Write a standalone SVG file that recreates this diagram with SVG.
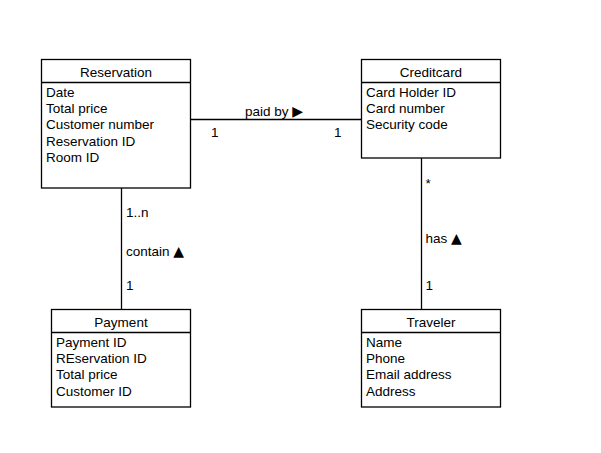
<svg xmlns="http://www.w3.org/2000/svg" width="601" height="453" viewBox="0 0 601 453">
<style>
.box{fill:#fff;stroke:#000;stroke-width:1.3}
.div{stroke:#000;stroke-width:1.3}
.conn{stroke:#000;stroke-width:1.3;fill:none}
text{font-family:"Liberation Sans","DejaVu Sans",Arial,sans-serif;font-size:13.5px;fill:#000}
.t{text-anchor:middle}
.tri{font-family:"DejaVu Sans",sans-serif;font-size:14px}
</style>
<rect width="601" height="453" fill="#fff"/>
<g id="connectors">
<line class="conn" x1="190.5" y1="119.5" x2="361.5" y2="119.5"/>
<line class="conn" x1="121.5" y1="188" x2="121.5" y2="309.5"/>
<line class="conn" x1="421.5" y1="158" x2="421.5" y2="309.5"/>
<text x="245" y="116">paid by <tspan class="tri">▶</tspan></text>
<text x="211" y="136.5">1</text>
<text x="334" y="136.5">1</text>
<text x="126" y="217">1..n</text>
<text x="126" y="256">contain <tspan class="tri">▲</tspan></text>
<text x="126" y="290">1</text>
<text x="425.5" y="188">*</text>
<text x="425.5" y="242.5">has <tspan class="tri">▲</tspan></text>
<text x="425.5" y="290">1</text>
</g>
<g id="reservation">
<rect class="box" x="41.5" y="59.5" width="149" height="128.5"/>
<line class="div" x1="41.5" y1="82.5" x2="190.5" y2="82.5"/>
<text class="t" x="116" y="77">Reservation</text>
<text x="46" y="96.5">Date</text>
<text x="46" y="113">Total price</text>
<text x="46" y="129.3">Customer number</text>
<text x="46" y="145.5">Reservation ID</text>
<text x="46" y="161.5">Room ID</text>
</g>
<g id="creditcard">
<rect class="box" x="361.5" y="59.5" width="139" height="98.5"/>
<line class="div" x1="361.5" y1="82.5" x2="500.5" y2="82.5"/>
<text class="t" x="431" y="77">Creditcard</text>
<text x="366" y="96.5">Card Holder ID</text>
<text x="366" y="113">Card number</text>
<text x="366" y="129.3">Security code</text>
</g>
<g id="payment">
<rect class="box" x="51.5" y="309.5" width="139" height="97.5"/>
<line class="div" x1="51.5" y1="332.5" x2="190.5" y2="332.5"/>
<text class="t" x="121" y="327">Payment</text>
<text x="56" y="346.5">Payment ID</text>
<text x="56" y="363">REservation ID</text>
<text x="56" y="379.3">Total price</text>
<text x="56" y="395.5">Customer ID</text>
</g>
<g id="traveler">
<rect class="box" x="361.5" y="309.5" width="139" height="97.5"/>
<line class="div" x1="361.5" y1="332.5" x2="500.5" y2="332.5"/>
<text class="t" x="431" y="327">Traveler</text>
<text x="366" y="346.5">Name</text>
<text x="366" y="363">Phone</text>
<text x="366" y="379.3">Email address</text>
<text x="366" y="395.5">Address</text>
</g>
</svg>
